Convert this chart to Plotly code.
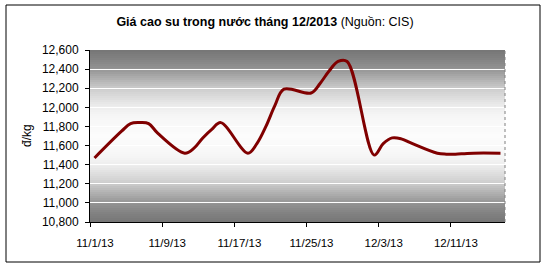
import numpy as np
import plotly.graph_objects as go

# ---- data ----
dates = ["2013-11-01", "2013-11-04", "2013-11-05", "2013-11-06", "2013-11-07", "2013-11-08",
         "2013-11-11", "2013-11-12", "2013-11-13", "2013-11-14", "2013-11-15",
         "2013-11-18", "2013-11-19", "2013-11-20", "2013-11-21", "2013-11-22",
         "2013-11-25", "2013-11-26", "2013-11-27", "2013-11-28", "2013-11-29",
         "2013-12-02", "2013-12-03", "2013-12-04", "2013-12-05", "2013-12-06",
         "2013-12-09", "2013-12-10", "2013-12-11", "2013-12-12", "2013-12-13",
         "2013-12-16"]
prices = [11470, 11750, 11830, 11840, 11830, 11730,
          11520, 11570, 11680, 11770, 11840,
          11520, 11620, 11800, 12020, 12190,
          12150, 12250, 12380, 12480, 12480,
          11500, 11620, 11680, 11670, 11630,
          11520, 11510, 11510, 11515, 11520,
          11520]
tick_positions = ["2013-10-31 12:00", "2013-11-08 12:00", "2013-11-16 12:00",
                  "2013-11-24 12:00", "2013-12-02 12:00", "2013-12-10 12:00"]
tick_labels = ["11/1/13", "11/9/13", "11/17/13", "11/25/13", "12/3/13", "12/11/13"]
y_ticks = [10800, 11000, 11200, 11400, 11600, 11800, 12000, 12200, 12400, 12600]

FONT = "Liberation Sans, Arial, sans-serif"

fig = go.Figure()
fig.add_trace(go.Scatter(
    x=dates, y=prices, mode="lines",
    line=dict(color="#800000", width=3, shape="spline", smoothing=1.0),
    hoverinfo="skip", showlegend=False,
))

# ---- background gradient (styling) ----
shapes = []
n_strips = 86
prof_d = [0, 20, 30, 40, 48, 50, 60, 67, 77, 86]
prof_b = [252, 246, 236, 218, 204, 196, 168, 148, 130, 118]
for i in range(n_strips):
    y0 = i / n_strips
    y1 = (i + 1) / n_strips
    dist = abs((y0 + y1) / 2 - 0.5) * 172
    b = int(round(np.interp(dist, prof_d, prof_b)))
    shapes.append(dict(type="rect", xref="paper", yref="paper", x0=0, x1=1, y0=y0, y1=y1,
                       fillcolor=f"rgb({b},{b},{b})", line=dict(width=0), layer="below"))

# right border of plot area (dotted gray)
shapes.append(dict(type="line", xref="paper", yref="paper", x0=1, x1=1, y0=0, y1=1,
                   line=dict(color="#808080", width=1, dash="dot")))
# outer chart border
W, H = 546, 267
L, R, T, B = 90, 41, 50, 45
pw, ph = W - L - R, H - T - B
def px_x(p):
    return (p - L) / pw
def px_y(p):
    return (H - B - p) / ph
shapes.append(dict(type="rect", xref="paper", yref="paper",
                   x0=px_x(6), x1=px_x(540), y0=px_y(262), y1=px_y(5),
                   line=dict(color="black", width=1), fillcolor="rgba(0,0,0,0)"))

fig.update_layout(
    width=W, height=H,
    margin=dict(l=L, r=R, t=T, b=B, pad=0),
    paper_bgcolor="white", plot_bgcolor="white",
    font=dict(family=FONT, size=12, color="black"),
    title=dict(text="<b>Giá cao su trong nước tháng 12/2013</b> (Nguồn: CIS)",
               x=265 / W, xanchor="center", y=1 - 22 / H, yanchor="middle",
               font=dict(family=FONT, size=12.5, color="black")),
    shapes=shapes,
    annotations=[dict(text="đ/kg", xref="paper", yref="paper", x=px_x(27), y=0.5,
                      textangle=-90, showarrow=False, xanchor="center", yanchor="middle",
                      font=dict(family=FONT, size=12, color="black"))],
    showlegend=False,
)
fig.update_xaxes(
    type="date", range=["2013-10-31 12:00", "2013-12-16 12:00"],
    tickmode="array", tickvals=tick_positions, ticktext=tick_labels,
    ticks="outside", ticklen=4, tickcolor="black", tickwidth=1,
    ticklabelshift=5, ticklabelstandoff=6,
    showline=True, linecolor="black", linewidth=1,
    showgrid=False, zeroline=False,
    tickfont=dict(family=FONT, size=11.5, color="black"),
)
fig.update_yaxes(
    range=[10800, 12600], tickmode="array", tickvals=y_ticks,
    tickformat=",d",
    ticks="outside", ticklen=4, tickcolor="black", tickwidth=1,
    ticklabelstandoff=4,
    showline=True, linecolor="black", linewidth=1,
    showgrid=True, gridcolor="white", gridwidth=1,
    zeroline=False,
    tickfont=dict(family=FONT, size=12, color="black"),
)

fig.write_html("out.html")
